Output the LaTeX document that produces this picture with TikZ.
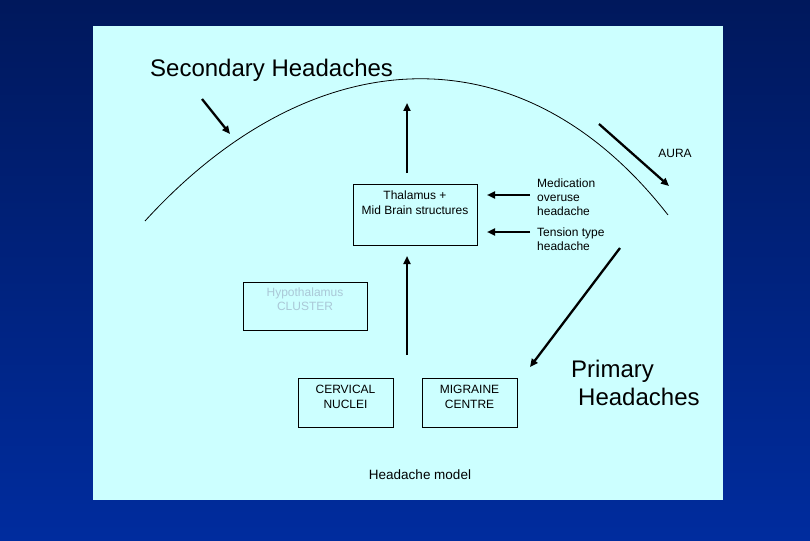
\documentclass[tikz,border=0pt]{standalone}
\usepackage{fontspec}
\setmainfont{Liberation Sans}
\usetikzlibrary{arrows.meta}
\definecolor{panel}{RGB}{204,255,255}
\definecolor{bgtop}{RGB}{0,24,92}
\definecolor{bgbot}{RGB}{0,44,158}
\definecolor{faint}{RGB}{170,200,215}
\begin{document}
\begin{tikzpicture}[x=1pt,y=-1pt,
  box/.style={draw=black,line width=0.9pt,inner sep=0pt,fill=none},
  small/.style={font=\fontsize{12}{14.5}\selectfont,align=center,inner sep=0pt},
  smallleft/.style={font=\fontsize{12}{14}\selectfont,align=left,inner sep=0pt},
  big/.style={font=\fontsize{24}{28}\selectfont,inner sep=0pt},
  arr/.style={line width=2.3pt,-{Triangle[length=8pt,width=7pt]}}]
\useasboundingbox (0,0) rectangle (810,540);
\shade[top color=bgtop,bottom color=bgbot] (0,0) rectangle (810,540);
\fill[panel] (93,26) rectangle (723,500);
% arc
\coordinate (arcL) at (145,221);
\coordinate (arcR) at (668,215);
\draw[line width=0.8pt] (arcL) .. controls (310,40) and (520,25) .. (arcR);
% titles
\node[big,anchor=base west] (sec) at (150,77) {Secondary Headaches};
\node[big,anchor=base west] (prim1) at (571,377) {Primary};
\node[big,anchor=base west] (prim2) at (578,405) {Headaches};
% boxes
\node[box,minimum width=124pt,minimum height=61pt] (thal) at (415,214.5) {};
\node[small,anchor=north] (thalt) at ([yshift=-7.5pt]thal.north) {Thalamus +\\Mid Brain structures};
\node[box,minimum width=124pt,minimum height=48pt] (hyp) at (305,306) {};
\node[small,anchor=north,text=faint] (hypt) at ([yshift=-6pt]hyp.north) {Hypothalamus\\CLUSTER};
\node[box,minimum width=95pt,minimum height=49pt] (cerv) at (345.5,402.5) {};
\node[small,anchor=north,font=\fontsize{12}{15}\selectfont] (cervt) at ([yshift=-7pt]cerv.north) {CERVICAL\\NUCLEI};
\node[box,minimum width=95pt,minimum height=49pt] (mig) at (469.5,402.5) {};
\node[small,anchor=north,font=\fontsize{12}{15}\selectfont] (migt) at ([yshift=-7pt]mig.north) {MIGRAINE\\CENTRE};
% labels
\node[small] (aura) at (675,153) {AURA};
\node[smallleft,anchor=north west] (med) at (537,179) {Medication\\overuse\\headache};
\node[smallleft,anchor=north west] (ten) at (537,228) {Tension type\\headache};
\node[font=\fontsize{13.5}{16}\selectfont,inner sep=0pt] (model) at (420,475) {Headache model};
% arrows
\coordinate (a1s) at (202,99);  \coordinate (a1e) at (230,134);
\coordinate (a2s) at (407,173); \coordinate (a2e) at (407,103);
\coordinate (a3s) at (407,355); \coordinate (a3e) at (407,256);
\coordinate (a4s) at (599,124); \coordinate (a4e) at (669,186);
\coordinate (a5s) at (530,195); \coordinate (a5e) at (487,195);
\coordinate (a6s) at (530,232); \coordinate (a6e) at (487,232);
\coordinate (a7s) at (620,248); \coordinate (a7e) at (530,367);
\draw[arr] (a1s) -- (a1e);
\draw[arr] (a2s) -- (a2e);
\draw[arr] (a3s) -- (a3e);
\draw[arr] (a4s) -- (a4e);
\draw[arr] (a5s) -- (a5e);
\draw[arr] (a6s) -- (a6e);
\draw[arr] (a7s) -- (a7e);
\end{tikzpicture}
\end{document}
